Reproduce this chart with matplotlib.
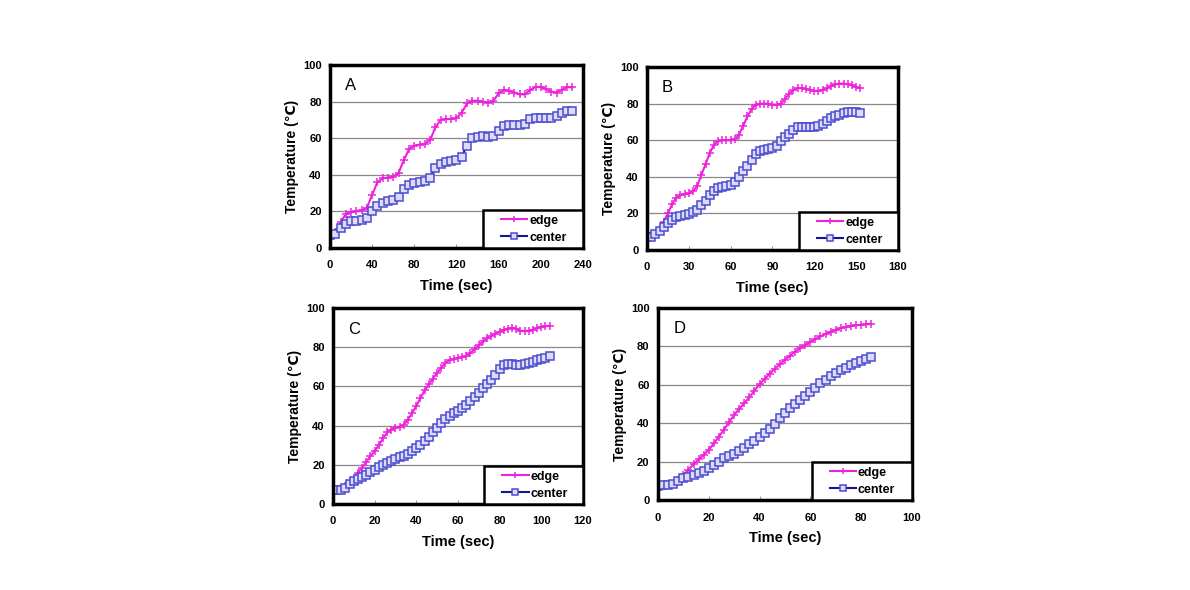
import matplotlib
matplotlib.use("Agg")
import matplotlib.pyplot as plt
from matplotlib.lines import Line2D
from matplotlib.legend_handler import HandlerLine2D

plt.rcParams['font.family'] = ['Liberation Sans', 'DejaVu Sans']

# ---- data ----
t_a = list(range(0, 231, 5))
edge_a = [7, 9, 14, 18.5, 19.5, 20, 20.5, 22, 29, 36, 38, 38.5, 39, 41, 48, 54, 56, 56.5, 57, 59,
          66, 70, 70.5, 70.5, 71, 74, 79, 80.5, 80.5, 80, 79.5, 80.5, 84.5, 86.5, 86, 85, 84, 84,
          86.5, 88, 88, 87, 85.5, 85, 86.5, 88, 87.8]
center_a = [7, 7.5, 11, 13, 14.5, 15, 15.5, 16.5, 20, 23, 24.5, 25.5, 26, 28, 32.5, 34.5, 35.5, 36,
            36.5, 38.5, 43.5, 46, 47, 47.5, 48, 50, 56, 60, 60.5, 61, 60.5, 61, 64, 66.5, 67, 67, 67,
            68, 70.5, 71, 71, 71, 71, 72, 74, 75, 75]

t_b = list(range(0, 154, 3))
edge_b = [7, 7.5, 9, 11.5, 15.5, 20, 25, 28.5, 30, 30.5, 31, 32, 35, 41, 47, 53, 57.5, 59.5, 60, 60,
          60, 60.5, 63, 68, 73, 77, 79.5, 80, 80, 80, 79.5, 79.5, 80, 82.5, 85.5, 87.5, 88.5, 88.5,
          88, 87.5, 87, 87, 87.5, 88.5, 89.5, 90.5, 91, 91, 90.5, 90, 89, 88.5]
center_b = [7, 7, 8.5, 10.5, 12.5, 14.5, 16.5, 18, 18.5, 19, 19.5, 20.5, 22, 24.5, 27, 30, 32.5, 34,
            34.5, 35, 35.5, 37, 40, 43, 46, 49, 52.5, 54, 54.5, 55, 55.5, 57, 59.5, 61.5, 63.5, 65.5,
            67, 67.5, 67.5, 67.5, 67.5, 68, 69, 70.5, 72, 73, 74, 75, 75.5, 75.5, 75.5, 75]

t_c = list(range(0, 105, 2))
edge_c = [7, 7, 7.5, 9, 11, 13, 16, 18.5, 21.5, 24.5, 27, 30, 33.5, 36.5, 38, 39, 39.5, 40.5, 43,
          46.5, 50, 54, 58, 61, 64, 67, 69.5, 72, 73.5, 74, 74.5, 75, 75.5, 77, 79, 81, 83, 84.5,
          86, 87, 88, 89, 89.5, 90, 89.5, 88.5, 88.2, 88.5, 89, 89.7, 90.3, 90.7, 91]
center_c = [7, 7, 7.3, 8.3, 10, 11.5, 12.5, 13.8, 15, 16.3, 17.5, 18.8, 20, 21, 22, 23, 23.8, 24.5,
            25.5, 27, 28.6, 30.2, 32, 34.3, 36.6, 39, 41.2, 43.2, 45, 46.4, 47.4, 48.8, 50.5, 52.7,
            54.8, 56.8, 59, 61, 63.3, 66, 69, 70.8, 71.4, 71.4, 71.2, 71, 71.3, 72, 72.7, 73.4, 74,
            74.7, 75.3]

t_d = list(range(0, 85, 2))
edge_d = [7.5, 7.5, 7.6, 8.5, 10.5, 13, 15.8, 18.6, 21.2, 23.5, 26, 29.5, 33, 36.7, 40.5, 44.3,
          47.5, 50.5, 53.5, 57, 60.3, 63, 65.7, 68.3, 70.7, 73, 75.2, 77.3, 79.1, 80.8, 82.3, 83.8,
          85.2, 86.5, 87.7, 88.7, 89.5, 90.1, 90.6, 91, 91.3, 91.5, 91.7]
center_d = [7.5, 7.6, 7.9, 8.6, 10, 11.3, 12.2, 13.1, 14.2, 15.3, 16.5, 18.2, 20, 21.7, 23, 24, 25.5,
            27, 29, 31, 33, 35, 37.2, 39.8, 42.5, 45.2, 47.7, 50.1, 52.3, 54.4, 56.5, 58.6, 60.7,
            62.6, 64.4, 66, 67.5, 68.9, 70.1, 71.2, 72.2, 73.4, 74.4]

panels = [
    ("A", t_a, edge_a, center_a, 240, 40),
    ("B", t_b, edge_b, center_b, 180, 30),
    ("C", t_c, edge_c, center_c, 120, 20),
    ("D", t_d, edge_d, center_d, 100, 20),
]

# axes rectangles in figure fraction [left, bottom, width, height]
rects = [
    [0.2773, 0.5797, 0.2126, 0.310],
    [0.5437, 0.5763, 0.2109, 0.310],
    [0.2798, 0.1458, 0.2101, 0.332],
    [0.5529, 0.1525, 0.2134, 0.3254],
]

fig = plt.figure(figsize=(11.9, 5.9), dpi=100)

for (letter, t, edge, center, xmax, xstep), rect in zip(panels, rects):
    ax = fig.add_axes(rect)
    ax.plot(t, edge, color='#ee22dd', lw=1.5, marker='+', ms=6, mew=1.1,
            label='edge')
    ax.plot(t, center, color='#141494', lw=1.5, marker='s', ms=5.2, mew=1.1,
            mfc='#dcdcfa', mec='#4c4cd0', label='center')
    ax.set_xlim(0, xmax)
    ax.set_ylim(0, 100)
    ax.set_xticks(range(0, xmax + 1, xstep))
    ax.set_yticks(range(0, 101, 20))
    ax.yaxis.grid(True, color='#888888', lw=0.9)
    ax.set_axisbelow(True)
    for s in ax.spines.values():
        s.set_linewidth(2.5)
    ax.tick_params(axis='x', direction='in', length=3, width=0.8, color='#999999',
                   labelsize=8, pad=9)
    ax.tick_params(axis='y', length=0, labelsize=8, pad=6)
    for lab in ax.get_xticklabels() + ax.get_yticklabels():
        lab.set_fontweight('bold')
    ax.set_xlabel('Time (sec)', fontsize=10.5, fontweight='bold', labelpad=6)
    ax.set_ylabel('Temperature (\u2103)', fontsize=10, fontweight='bold', labelpad=3)
    ax.text(0.06, 0.93, letter, transform=ax.transAxes, fontsize=12, va='top', ha='left')
    leg = ax.legend(loc='lower left', bbox_to_anchor=(0.605, 0, 0.395, 0.2), mode='expand',
                    borderaxespad=0, fancybox=False,
                    prop={'weight': 'bold', 'size': 9}, handlelength=3.2,
                    markerscale=0.8, borderpad=0.35, labelspacing=0.4,
                    handletextpad=0.15,
                    handler_map={Line2D: HandlerLine2D(xpad=1.1)})
    leg.get_frame().set_edgecolor('black')
    leg.get_frame().set_linewidth(1.8)
    leg.get_frame().set_alpha(1)

fig.savefig('out.png', dpi=100)
